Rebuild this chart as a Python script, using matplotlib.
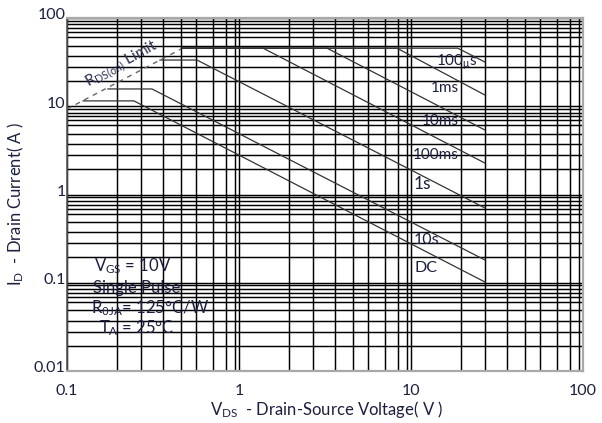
import numpy as np
import matplotlib
matplotlib.use("Agg")
import matplotlib.pyplot as plt
from matplotlib.transforms import ScaledTranslation

plt.rcParams['font.family'] = ['Lato', 'DejaVu Sans']
plt.rcParams['mathtext.fontset'] = 'custom'
plt.rcParams['mathtext.rm'] = 'Lato'

# ---------------- data ----------------
rds_v = [0.1, 0.46]
rds_i = [9.3, 44.5]

curve_names = ["100μs", "1ms", "10ms", "100ms", "1s", "10s", "DC"]
v_100us = [0.472, 18.7, 26.9]
i_100us = [45.5, 45.5, 31.7]
v_1ms = [0.472, 8.29, 26.9]
i_1ms = [45.5, 45.5, 13.4]
v_10ms = [0.472, 3.25, 26.9]
i_10ms = [45.5, 45.5, 5.38]
v_100ms = [0.472, 1.38, 26.9]
i_100ms = [45.5, 45.5, 2.27]
v_1s = [0.347, 0.570, 26.9]
i_1s = [33.4, 33.4, 0.703]
v_10s = [0.173, 0.312, 26.9]
i_10s = [15.7, 15.7, 0.181]
v_dc = [0.124, 0.245, 26.9]
i_dc = [11.5, 11.5, 0.102]

x_ticks = [0.1, 1, 10, 100]
x_ticklabels = ["0.1", "1", "10", "100"]
y_ticks = [0.01, 0.1, 1, 10, 100]
y_ticklabels = ["0.01", "0.1", "1", "10", "100"]

# ---------------- style ----------------
W, H = 602, 423
fig = plt.figure(figsize=(W / 100, H / 100), dpi=100)
L, R, T, B = 67, 583, 18, 371
ax = fig.add_axes([L / W, 1 - B / H, (R - L) / W, (B - T) / H])
ax.set_xscale('log')
ax.set_yscale('log')
ax.set_xlim(0.1, 100)
ax.set_ylim(0.01, 100)

txt_col = '#1c2040'

# grid positions (fraction of a decade) as drawn in the reference
gx_frac = [0.291, 0.430, 0.558, 0.663, 0.750, 0.849, 0.924, 0.977]
gy_frac = [0.287, 0.446, 0.570, 0.688, 0.783, 0.839, 0.884, 0.927, 0.970]
xminor = [10 ** (d + f) for d in range(-1, 2) for f in gx_frac]
yminor = [10 ** (d + f) for d in range(-2, 2) for f in gy_frac]

ax.set_xticks(x_ticks)
ax.set_xticklabels(x_ticklabels)
ax.set_yticks(y_ticks)
ax.set_yticklabels(y_ticklabels)
ax.set_xticks(xminor, minor=True)
ax.set_yticks(yminor, minor=True)
ax.tick_params(which='both', length=0)
ax.tick_params(axis='x', pad=9, labelsize=11.5, labelcolor=txt_col)
ax.tick_params(axis='y', pad=1, labelsize=11.5, labelcolor=txt_col)
for lab in ax.get_yticklabels():
    lab.set_transform(lab.get_transform() + ScaledTranslation(0, 3 / 72, fig.dpi_scale_trans))
ax.grid(which='both', color='black', lw=1.05)
ax.set_axisbelow(True)
for s in ['top', 'right', 'bottom']:
    ax.spines[s].set_color('#a8a8a8')
    ax.spines[s].set_linewidth(1.6)
ax.spines['left'].set_color('#555555')
ax.spines['left'].set_linewidth(1.2)

# curves
ax.plot(rds_v, rds_i, color='#666666', lw=1.0, dashes=(3.5, 3.5))
for v, i in [(v_100us, i_100us), (v_1ms, i_1ms), (v_10ms, i_10ms), (v_100ms, i_100ms),
             (v_1s, i_1s), (v_10s, i_10s), (v_dc, i_dc)]:
    ax.plot(v, i, color='#333333', lw=0.9)

def fx(px):
    return px / W

def fy(py):
    return 1 - py / H

fs = 11
# curve labels
fig.text(fx(477), fy(62), r"$\mathregular{100_{μ}s}$", ha='right', va='center', fontsize=fs, color=txt_col)
fig.text(fx(459), fy(88), "1ms", ha='right', va='center', fontsize=fs, color=txt_col)
fig.text(fx(459), fy(121), "10ms", ha='right', va='center', fontsize=fs, color=txt_col)
fig.text(fx(459), fy(155), "100ms", ha='right', va='center', fontsize=fs, color=txt_col)
fig.text(fx(414), fy(184), "1s", ha='left', va='center', fontsize=fs + 1.5, color=txt_col)
fig.text(fx(414), fy(240), "10s", ha='left', va='center', fontsize=fs + 0.5, color=txt_col)
fig.text(fx(414), fy(268), "DC", ha='left', va='center', fontsize=fs + 0.5, color=txt_col)

# conditions
fig.text(fx(133), fy(266), r"$\mathregular{V_{GS}}$ = 10V", ha='center', va='center', fontsize=fs + 1, color=txt_col)
fig.text(fx(137), fy(288), "Single Pulse", ha='center', va='center', fontsize=fs + 1, color=txt_col)
fig.text(fx(150), fy(308), r"$\mathregular{R_{θJA}}$= 125°C/W", ha='center', va='center', fontsize=fs + 1, color=txt_col)
fig.text(fx(137), fy(328), r"$\mathregular{T_{A}}$ = 25°C", ha='center', va='center', fontsize=fs + 1, color=txt_col)

# Rds(on) limit label
fig.text(fx(122), fy(64), r"$\mathregular{R_{DS(on)}}$ Limit", ha='center', va='center',
         fontsize=fs, color='#2a3050', rotation=29)

# axis labels
fig.text(fx(327), fy(409), r"$\mathregular{V_{DS}}$  - Drain-Source Voltage( V )", ha='center', va='center',
         fontsize=12, color=txt_col)
fig.text(fx(16), fy(204), r"$\mathregular{I_{D}}$  - Drain Current( A )", ha='center', va='center',
         fontsize=12, color=txt_col, rotation=90)

fig.savefig("out.png", dpi=100, facecolor='white')
